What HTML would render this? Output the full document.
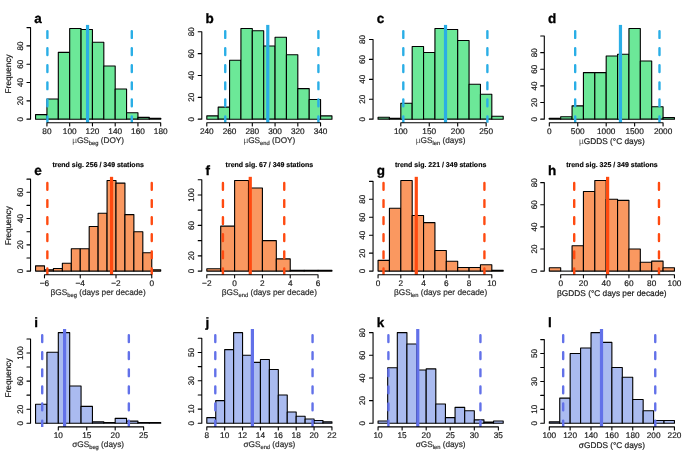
<!DOCTYPE html>
<html lang="en">
<head>
<meta charset="utf-8">
<title>Growing season histograms</title>
<style>
html, body { margin: 0; padding: 0; background: #ffffff; }
body { width: 685px; height: 457px; overflow: hidden; }
svg { display: block; }
</style>
</head>
<body>
<svg width="685" height="457" viewBox="0 0 685 457" text-rendering="geometricPrecision" font-family="'Liberation Sans', Arial, Helvetica, sans-serif">
<rect width="685" height="457" fill="#ffffff"/>
<defs><clipPath id="clip0"><rect x="0" y="24.9" width="685" height="97.9"/></clipPath><clipPath id="clip1"><rect x="0" y="176.83" width="685" height="97.9"/></clipPath><clipPath id="clip2"><rect x="0" y="329" width="685" height="97.9"/></clipPath></defs>
<g class="panel-a">
<g fill="#6ce898" stroke="#000000" stroke-width="1.1" stroke-linejoin="round">
<rect x="35.56" y="114.6" width="11.38" height="4.58"/>
<rect x="46.93" y="99.03" width="11.38" height="20.14"/>
<rect x="58.31" y="52.33" width="11.38" height="66.84"/>
<rect x="69.68" y="28.53" width="11.38" height="90.65"/>
<rect x="81.06" y="29.44" width="11.38" height="89.73"/>
<rect x="92.44" y="42.26" width="11.38" height="76.91"/>
<rect x="103.81" y="66.07" width="11.38" height="53.11"/>
<rect x="115.19" y="88.96" width="11.38" height="30.22"/>
<rect x="126.57" y="112.76" width="11.38" height="6.41"/>
<rect x="137.94" y="117.34" width="11.38" height="1.83"/>
<rect x="149.32" y="118.26" width="11.38" height="0.92"/>
</g>
<line x1="87.55" y1="122.8" x2="87.55" y2="24.9" stroke="#2aaee6" stroke-width="3.2"/>
<path d="M47.39 31.1v6.8M47.39 48.18v6.8M47.39 65.26v6.8M47.39 82.34v6.8M47.39 99.42v6.8M47.39 116.5v6.8" fill="none" stroke="#2aaee6" stroke-width="2.4" stroke-linecap="round" clip-path="url(#clip0)"/>
<path d="M131.8 31.1v6.8M131.8 48.18v6.8M131.8 65.26v6.8M131.8 82.34v6.8M131.8 99.42v6.8M131.8 116.5v6.8" fill="none" stroke="#2aaee6" stroke-width="2.4" stroke-linecap="round" clip-path="url(#clip0)"/>
<path d="M46.93 122.8H160.69M46.93 122.8v3.1M69.68 122.8v3.1M92.44 122.8v3.1M115.19 122.8v3.1M137.94 122.8v3.1M160.69 122.8v3.1M30.55 119.17V27.61M30.55 119.17h-3.6M30.55 100.86h-3.6M30.55 82.55h-3.6M30.55 64.24h-3.6M30.55 45.92h-3.6M30.55 27.61h-3.6" fill="none" stroke="#000000" stroke-width="1.1" stroke-linecap="round"/>
<g font-size="8.25" fill="#1a1a1a" stroke="#1a1a1a" stroke-width="0.2" text-anchor="middle">
<text x="46.93" y="133.6">80</text>
<text x="69.68" y="133.6">100</text>
<text x="92.44" y="133.6">120</text>
<text x="115.19" y="133.6">140</text>
<text x="137.94" y="133.6">160</text>
<text x="160.69" y="133.6">180</text>
<text transform="translate(22.75 119.17) rotate(-90)" font-size="8.1">0</text>
<text transform="translate(22.75 100.86) rotate(-90)" font-size="8.1">20</text>
<text transform="translate(22.75 82.55) rotate(-90)" font-size="8.1">40</text>
<text transform="translate(22.75 64.24) rotate(-90)" font-size="8.1">60</text>
<text transform="translate(22.75 45.92) rotate(-90)" font-size="8.1">80</text>
</g>
<text x="98.12" y="143.2" font-size="8.25" fill="#2e2e2e" stroke="#2e2e2e" stroke-width="0.2" text-anchor="middle"><tspan fill="#4a4a4a" stroke="none">µ</tspan>GS<tspan font-size="5.77" dy="1.6">beg</tspan><tspan dy="-1.6"> (DOY)</tspan></text>
<text transform="translate(11.2 73.85) rotate(-90)" font-size="8.3" fill="#1a1a1a" stroke="#1a1a1a" stroke-width="0.2" text-anchor="middle">Frequency</text>
<text x="34.3" y="23.35" font-size="13.5" font-weight="bold" fill="#000000" stroke="#000000" stroke-width="0.3">a</text>
</g>
<g class="panel-b">
<g fill="#6ce898" stroke="#000000" stroke-width="1.1" stroke-linejoin="round">
<rect x="206.81" y="115.9" width="11.38" height="3.28"/>
<rect x="218.18" y="107.16" width="11.38" height="12.01"/>
<rect x="229.56" y="60.2" width="11.38" height="58.98"/>
<rect x="240.93" y="28.53" width="11.38" height="90.65"/>
<rect x="252.31" y="30.71" width="11.38" height="88.46"/>
<rect x="263.69" y="46" width="11.38" height="73.17"/>
<rect x="275.06" y="37.26" width="11.38" height="81.91"/>
<rect x="286.44" y="54.74" width="11.38" height="64.44"/>
<rect x="297.82" y="88.59" width="11.38" height="30.58"/>
<rect x="309.19" y="99.52" width="11.38" height="19.66"/>
<rect x="320.57" y="115.9" width="11.38" height="3.28"/>
</g>
<line x1="267.78" y1="122.8" x2="267.78" y2="24.9" stroke="#2aaee6" stroke-width="3.2"/>
<path d="M225.24 31.1v6.8M225.24 48.18v6.8M225.24 65.26v6.8M225.24 82.34v6.8M225.24 99.42v6.8M225.24 116.5v6.8" fill="none" stroke="#2aaee6" stroke-width="2.4" stroke-linecap="round" clip-path="url(#clip0)"/>
<path d="M318.41 31.1v6.8M318.41 48.18v6.8M318.41 65.26v6.8M318.41 82.34v6.8M318.41 99.42v6.8M318.41 116.5v6.8" fill="none" stroke="#2aaee6" stroke-width="2.4" stroke-linecap="round" clip-path="url(#clip0)"/>
<path d="M206.81 122.8H320.57M206.81 122.8v3.1M229.56 122.8v3.1M252.31 122.8v3.1M275.06 122.8v3.1M297.82 122.8v3.1M320.57 122.8v3.1M201.8 119.17V31.8M201.8 119.17h-3.6M201.8 97.33h-3.6M201.8 75.49h-3.6M201.8 53.65h-3.6M201.8 31.8h-3.6" fill="none" stroke="#000000" stroke-width="1.1" stroke-linecap="round"/>
<g font-size="8.25" fill="#1a1a1a" stroke="#1a1a1a" stroke-width="0.2" text-anchor="middle">
<text x="206.81" y="133.6">240</text>
<text x="229.56" y="133.6">260</text>
<text x="252.31" y="133.6">280</text>
<text x="275.06" y="133.6">300</text>
<text x="297.82" y="133.6">320</text>
<text x="320.57" y="133.6">340</text>
<text transform="translate(194 119.17) rotate(-90)" font-size="8.1">0</text>
<text transform="translate(194 97.33) rotate(-90)" font-size="8.1">20</text>
<text transform="translate(194 75.49) rotate(-90)" font-size="8.1">40</text>
<text transform="translate(194 53.65) rotate(-90)" font-size="8.1">60</text>
<text transform="translate(194 31.8) rotate(-90)" font-size="8.1">80</text>
</g>
<text x="269.38" y="143.2" font-size="8.25" fill="#2e2e2e" stroke="#2e2e2e" stroke-width="0.2" text-anchor="middle"><tspan fill="#4a4a4a" stroke="none">µ</tspan>GS<tspan font-size="5.77" dy="1.6">end</tspan><tspan dy="-1.6"> (DOY)</tspan></text>
<text x="205.55" y="23.35" font-size="13.5" font-weight="bold" fill="#000000" stroke="#000000" stroke-width="0.3">b</text>
</g>
<g class="panel-c">
<g fill="#6ce898" stroke="#000000" stroke-width="1.1" stroke-linejoin="round">
<rect x="378.06" y="117.18" width="11.38" height="1.99"/>
<rect x="389.43" y="118.18" width="11.38" height="1"/>
<rect x="400.81" y="103.24" width="11.38" height="15.94"/>
<rect x="412.18" y="46.46" width="11.38" height="72.72"/>
<rect x="423.56" y="52.43" width="11.38" height="66.74"/>
<rect x="434.94" y="28.53" width="11.38" height="90.65"/>
<rect x="446.31" y="29.52" width="11.38" height="89.65"/>
<rect x="457.69" y="40.48" width="11.38" height="78.69"/>
<rect x="469.07" y="84.31" width="11.38" height="34.86"/>
<rect x="480.44" y="94.27" width="11.38" height="24.9"/>
<rect x="491.82" y="116.19" width="11.38" height="2.99"/>
</g>
<line x1="445.52" y1="122.8" x2="445.52" y2="24.9" stroke="#2aaee6" stroke-width="3.2"/>
<path d="M403.31 31.1v6.8M403.31 48.18v6.8M403.31 65.26v6.8M403.31 82.34v6.8M403.31 99.42v6.8M403.31 116.5v6.8" fill="none" stroke="#2aaee6" stroke-width="2.4" stroke-linecap="round" clip-path="url(#clip0)"/>
<path d="M487.38 31.1v6.8M487.38 48.18v6.8M487.38 65.26v6.8M487.38 82.34v6.8M487.38 99.42v6.8M487.38 116.5v6.8" fill="none" stroke="#2aaee6" stroke-width="2.4" stroke-linecap="round" clip-path="url(#clip0)"/>
<path d="M400.81 122.8H486.13M400.81 122.8v3.1M429.25 122.8v3.1M457.69 122.8v3.1M486.13 122.8v3.1M373.05 119.17V39.48M373.05 119.17h-3.6M373.05 99.25h-3.6M373.05 79.33h-3.6M373.05 59.41h-3.6M373.05 39.48h-3.6" fill="none" stroke="#000000" stroke-width="1.1" stroke-linecap="round"/>
<g font-size="8.25" fill="#1a1a1a" stroke="#1a1a1a" stroke-width="0.2" text-anchor="middle">
<text x="400.81" y="133.6">100</text>
<text x="429.25" y="133.6">150</text>
<text x="457.69" y="133.6">200</text>
<text x="486.13" y="133.6">250</text>
<text transform="translate(365.25 119.17) rotate(-90)" font-size="8.1">0</text>
<text transform="translate(365.25 99.25) rotate(-90)" font-size="8.1">20</text>
<text transform="translate(365.25 79.33) rotate(-90)" font-size="8.1">40</text>
<text transform="translate(365.25 59.41) rotate(-90)" font-size="8.1">60</text>
<text transform="translate(365.25 39.48) rotate(-90)" font-size="8.1">80</text>
</g>
<text x="440.62" y="143.2" font-size="8.25" fill="#2e2e2e" stroke="#2e2e2e" stroke-width="0.2" text-anchor="middle"><tspan fill="#4a4a4a" stroke="none">µ</tspan>GS<tspan font-size="5.77" dy="1.6">len</tspan><tspan dy="-1.6"> (days)</tspan></text>
<text x="376.8" y="23.35" font-size="13.5" font-weight="bold" fill="#000000" stroke="#000000" stroke-width="0.3">c</text>
</g>
<g class="panel-d">
<g fill="#6ce898" stroke="#000000" stroke-width="1.1" stroke-linejoin="round">
<rect x="549.31" y="118.34" width="11.38" height="0.83"/>
<rect x="560.68" y="116.68" width="11.38" height="2.49"/>
<rect x="572.06" y="105.87" width="11.38" height="13.31"/>
<rect x="583.43" y="72.6" width="11.38" height="46.57"/>
<rect x="594.81" y="72.6" width="11.38" height="46.57"/>
<rect x="606.19" y="55.97" width="11.38" height="63.2"/>
<rect x="617.56" y="54.31" width="11.38" height="64.87"/>
<rect x="628.94" y="28.53" width="11.38" height="90.65"/>
<rect x="640.32" y="60.96" width="11.38" height="58.21"/>
<rect x="651.69" y="106.7" width="11.38" height="12.47"/>
<rect x="663.07" y="117.51" width="11.38" height="1.66"/>
</g>
<line x1="620.46" y1="122.8" x2="620.46" y2="24.9" stroke="#2aaee6" stroke-width="3.2"/>
<path d="M575.19 31.1v6.8M575.19 48.18v6.8M575.19 65.26v6.8M575.19 82.34v6.8M575.19 99.42v6.8M575.19 116.5v6.8" fill="none" stroke="#2aaee6" stroke-width="2.4" stroke-linecap="round" clip-path="url(#clip0)"/>
<path d="M659.48 31.1v6.8M659.48 48.18v6.8M659.48 65.26v6.8M659.48 82.34v6.8M659.48 99.42v6.8M659.48 116.5v6.8" fill="none" stroke="#2aaee6" stroke-width="2.4" stroke-linecap="round" clip-path="url(#clip0)"/>
<path d="M549.31 122.8H663.07M549.31 122.8v3.1M577.75 122.8v3.1M606.19 122.8v3.1M634.63 122.8v3.1M663.07 122.8v3.1M544.3 119.17V36.01M544.3 119.17h-3.6M544.3 102.54h-3.6M544.3 85.91h-3.6M544.3 69.28h-3.6M544.3 52.64h-3.6M544.3 36.01h-3.6" fill="none" stroke="#000000" stroke-width="1.1" stroke-linecap="round"/>
<g font-size="8.25" fill="#1a1a1a" stroke="#1a1a1a" stroke-width="0.2" text-anchor="middle">
<text x="549.31" y="133.6">0</text>
<text x="577.75" y="133.6">500</text>
<text x="606.19" y="133.6">1000</text>
<text x="634.63" y="133.6">1500</text>
<text x="663.07" y="133.6">2000</text>
<text transform="translate(536.5 119.17) rotate(-90)" font-size="8.1">0</text>
<text transform="translate(536.5 102.54) rotate(-90)" font-size="8.1">20</text>
<text transform="translate(536.5 85.91) rotate(-90)" font-size="8.1">40</text>
<text transform="translate(536.5 69.28) rotate(-90)" font-size="8.1">60</text>
<text transform="translate(536.5 52.64) rotate(-90)" font-size="8.1">80</text>
</g>
<text x="611.88" y="143.9" font-size="8.3" fill="#1a1a1a" stroke="#1a1a1a" stroke-width="0.2" text-anchor="middle"><tspan fill="#4a4a4a" stroke="none">µ</tspan>GDDS (°C days)</text>
<text x="548.05" y="23.35" font-size="13.5" font-weight="bold" fill="#000000" stroke="#000000" stroke-width="0.3">d</text>
</g>
<g class="panel-e">
<g fill="#fa9860" stroke="#000000" stroke-width="1.1" stroke-linejoin="round">
<rect x="35.56" y="265.85" width="8.94" height="5.25"/>
<rect x="44.49" y="269.79" width="8.94" height="1.31"/>
<rect x="53.43" y="268.48" width="8.94" height="2.63"/>
<rect x="62.37" y="263.22" width="8.94" height="7.88"/>
<rect x="71.31" y="248.77" width="8.94" height="22.33"/>
<rect x="80.25" y="248.77" width="8.94" height="22.33"/>
<rect x="89.19" y="226.44" width="8.94" height="44.67"/>
<rect x="98.12" y="213.3" width="8.94" height="57.8"/>
<rect x="107.06" y="180.46" width="8.94" height="90.65"/>
<rect x="116" y="183.08" width="8.94" height="88.02"/>
<rect x="124.94" y="214.61" width="8.94" height="56.49"/>
<rect x="133.88" y="231.69" width="8.94" height="39.41"/>
<rect x="142.82" y="252.71" width="8.94" height="18.39"/>
<rect x="151.76" y="269.79" width="8.94" height="1.31"/>
</g>
<line x1="111.53" y1="274.73" x2="111.53" y2="176.83" stroke="#ff4a10" stroke-width="3.2"/>
<path d="M47.35 183.03v6.8M47.35 200.11v6.8M47.35 217.19v6.8M47.35 234.27v6.8M47.35 251.35v6.8M47.35 268.43v6.8" fill="none" stroke="#ff4a10" stroke-width="2.4" stroke-linecap="round" clip-path="url(#clip1)"/>
<path d="M151.76 183.03v6.8M151.76 200.11v6.8M151.76 217.19v6.8M151.76 234.27v6.8M151.76 251.35v6.8M151.76 268.43v6.8" fill="none" stroke="#ff4a10" stroke-width="2.4" stroke-linecap="round" clip-path="url(#clip1)"/>
<path d="M44.49 274.73H151.76M44.49 274.73v3.1M80.25 274.73v3.1M116 274.73v3.1M151.76 274.73v3.1M30.55 271.1V179.14M30.55 271.1h-3.6M30.55 257.97h-3.6M30.55 244.83h-3.6M30.55 231.69h-3.6M30.55 218.55h-3.6M30.55 205.42h-3.6M30.55 192.28h-3.6M30.55 179.14h-3.6" fill="none" stroke="#000000" stroke-width="1.1" stroke-linecap="round"/>
<g font-size="8.25" fill="#1a1a1a" stroke="#1a1a1a" stroke-width="0.2" text-anchor="middle">
<text x="44.49" y="285.53">−6</text>
<text x="80.25" y="285.53">−4</text>
<text x="116" y="285.53">−2</text>
<text x="151.76" y="285.53">0</text>
<text transform="translate(22.75 271.1) rotate(-90)" font-size="8.1">0</text>
<text transform="translate(22.75 244.83) rotate(-90)" font-size="8.1">20</text>
<text transform="translate(22.75 218.55) rotate(-90)" font-size="8.1">40</text>
<text transform="translate(22.75 192.28) rotate(-90)" font-size="8.1">60</text>
</g>
<text x="98.12" y="295.13" font-size="8.25" fill="#2e2e2e" stroke="#2e2e2e" stroke-width="0.2" text-anchor="middle">βGS<tspan font-size="5.77" dy="1.6">beg</tspan><tspan dy="-1.6"> (days per decade)</tspan></text>
<text transform="translate(11.2 225.78) rotate(-90)" font-size="8.3" fill="#1a1a1a" stroke="#1a1a1a" stroke-width="0.2" text-anchor="middle">Frequency</text>
<text x="34.3" y="175.28" font-size="13.5" font-weight="bold" fill="#000000" stroke="#000000" stroke-width="0.3">e</text>
<text x="98.12" y="167.43" font-size="7" font-weight="bold" fill="#000000" stroke="#000000" stroke-width="0.15" text-anchor="middle">trend sig. 256 / 349 stations</text>
</g>
<g class="panel-f">
<g fill="#fa9860" stroke="#000000" stroke-width="1.1" stroke-linejoin="round">
<rect x="206.81" y="268.82" width="13.9" height="2.29"/>
<rect x="220.71" y="226.16" width="13.9" height="44.94"/>
<rect x="234.61" y="180.46" width="13.9" height="90.65"/>
<rect x="248.52" y="188.07" width="13.9" height="83.03"/>
<rect x="262.42" y="240.63" width="13.9" height="30.47"/>
<rect x="276.33" y="258.92" width="13.9" height="12.19"/>
<rect x="290.23" y="270.34" width="13.9" height="0.76"/>
<rect x="304.14" y="270.34" width="13.9" height="0.76"/>
<rect x="318.04" y="270.34" width="13.9" height="0.76"/>
</g>
<line x1="250.26" y1="274.73" x2="250.26" y2="176.83" stroke="#ff4a10" stroke-width="3.2"/>
<path d="M222.93 183.03v6.8M222.93 200.11v6.8M222.93 217.19v6.8M222.93 234.27v6.8M222.93 251.35v6.8M222.93 268.43v6.8" fill="none" stroke="#ff4a10" stroke-width="2.4" stroke-linecap="round" clip-path="url(#clip1)"/>
<path d="M284.25 183.03v6.8M284.25 200.11v6.8M284.25 217.19v6.8M284.25 234.27v6.8M284.25 251.35v6.8M284.25 268.43v6.8" fill="none" stroke="#ff4a10" stroke-width="2.4" stroke-linecap="round" clip-path="url(#clip1)"/>
<path d="M206.81 274.73H318.04M206.81 274.73v3.1M234.61 274.73v3.1M262.42 274.73v3.1M290.23 274.73v3.1M318.04 274.73v3.1M201.8 271.1V179.69M201.8 271.1h-3.6M201.8 255.87h-3.6M201.8 240.63h-3.6M201.8 225.4h-3.6M201.8 210.16h-3.6M201.8 194.93h-3.6M201.8 179.69h-3.6" fill="none" stroke="#000000" stroke-width="1.1" stroke-linecap="round"/>
<g font-size="8.25" fill="#1a1a1a" stroke="#1a1a1a" stroke-width="0.2" text-anchor="middle">
<text x="206.81" y="285.53">−2</text>
<text x="234.61" y="285.53">0</text>
<text x="262.42" y="285.53">2</text>
<text x="290.23" y="285.53">4</text>
<text x="318.04" y="285.53">6</text>
<text transform="translate(194 271.1) rotate(-90)" font-size="8.1">0</text>
<text transform="translate(194 255.87) rotate(-90)" font-size="8.1">20</text>
<text transform="translate(194 225.4) rotate(-90)" font-size="8.1">60</text>
<text transform="translate(194 194.93) rotate(-90)" font-size="8.1">100</text>
</g>
<text x="269.38" y="295.13" font-size="8.25" fill="#2e2e2e" stroke="#2e2e2e" stroke-width="0.2" text-anchor="middle">βGS<tspan font-size="5.77" dy="1.6">end</tspan><tspan dy="-1.6"> (days per decade)</tspan></text>
<text x="205.55" y="175.28" font-size="13.5" font-weight="bold" fill="#000000" stroke="#000000" stroke-width="0.3">f</text>
<text x="269.38" y="167.43" font-size="7" font-weight="bold" fill="#000000" stroke="#000000" stroke-width="0.15" text-anchor="middle">trend sig. 67 / 349 stations</text>
</g>
<g class="panel-g">
<g fill="#fa9860" stroke="#000000" stroke-width="1.1" stroke-linejoin="round">
<rect x="378.06" y="260.33" width="11.38" height="10.77"/>
<rect x="389.43" y="208.28" width="11.38" height="62.83"/>
<rect x="400.81" y="180.46" width="11.38" height="90.65"/>
<rect x="412.18" y="215.46" width="11.38" height="55.65"/>
<rect x="423.56" y="222.64" width="11.38" height="48.47"/>
<rect x="434.94" y="250.46" width="11.38" height="20.64"/>
<rect x="446.31" y="261.23" width="11.38" height="9.87"/>
<rect x="457.69" y="267.51" width="11.38" height="3.59"/>
<rect x="469.07" y="267.51" width="11.38" height="3.59"/>
<rect x="480.44" y="264.82" width="11.38" height="6.28"/>
<rect x="491.82" y="270.21" width="11.38" height="0.9"/>
</g>
<line x1="416.28" y1="274.73" x2="416.28" y2="176.83" stroke="#ff4a10" stroke-width="3.2"/>
<path d="M383.52 183.03v6.8M383.52 200.11v6.8M383.52 217.19v6.8M383.52 234.27v6.8M383.52 251.35v6.8M383.52 268.43v6.8" fill="none" stroke="#ff4a10" stroke-width="2.4" stroke-linecap="round" clip-path="url(#clip1)"/>
<path d="M484.42 183.03v6.8M484.42 200.11v6.8M484.42 217.19v6.8M484.42 234.27v6.8M484.42 251.35v6.8M484.42 268.43v6.8" fill="none" stroke="#ff4a10" stroke-width="2.4" stroke-linecap="round" clip-path="url(#clip1)"/>
<path d="M378.06 274.73H491.82M378.06 274.73v3.1M400.81 274.73v3.1M423.56 274.73v3.1M446.31 274.73v3.1M469.07 274.73v3.1M491.82 274.73v3.1M373.05 271.1V181.35M373.05 271.1h-3.6M373.05 253.15h-3.6M373.05 235.2h-3.6M373.05 217.25h-3.6M373.05 199.3h-3.6M373.05 181.35h-3.6" fill="none" stroke="#000000" stroke-width="1.1" stroke-linecap="round"/>
<g font-size="8.25" fill="#1a1a1a" stroke="#1a1a1a" stroke-width="0.2" text-anchor="middle">
<text x="378.06" y="285.53">0</text>
<text x="400.81" y="285.53">2</text>
<text x="423.56" y="285.53">4</text>
<text x="446.31" y="285.53">6</text>
<text x="469.07" y="285.53">8</text>
<text x="491.82" y="285.53">10</text>
<text transform="translate(365.25 271.1) rotate(-90)" font-size="8.1">0</text>
<text transform="translate(365.25 253.15) rotate(-90)" font-size="8.1">20</text>
<text transform="translate(365.25 235.2) rotate(-90)" font-size="8.1">40</text>
<text transform="translate(365.25 217.25) rotate(-90)" font-size="8.1">60</text>
<text transform="translate(365.25 199.3) rotate(-90)" font-size="8.1">80</text>
</g>
<text x="440.62" y="295.13" font-size="8.25" fill="#2e2e2e" stroke="#2e2e2e" stroke-width="0.2" text-anchor="middle">βGS<tspan font-size="5.77" dy="1.6">len</tspan><tspan dy="-1.6"> (days per decade)</tspan></text>
<text x="376.8" y="175.28" font-size="13.5" font-weight="bold" fill="#000000" stroke="#000000" stroke-width="0.3">g</text>
<text x="440.62" y="167.43" font-size="7" font-weight="bold" fill="#000000" stroke="#000000" stroke-width="0.15" text-anchor="middle">trend sig. 221 / 349 stations</text>
</g>
<g class="panel-h">
<g fill="#fa9860" stroke="#000000" stroke-width="1.1" stroke-linejoin="round">
<rect x="549.31" y="267.79" width="11.38" height="3.32"/>
<path d="M560.68 271.1H572.06"/>
<rect x="572.06" y="245.68" width="11.38" height="25.43"/>
<rect x="583.43" y="191.51" width="11.38" height="79.59"/>
<rect x="594.81" y="180.46" width="11.38" height="90.65"/>
<rect x="606.19" y="199.25" width="11.38" height="71.86"/>
<rect x="617.56" y="200.35" width="11.38" height="70.75"/>
<rect x="628.94" y="248.99" width="11.38" height="22.11"/>
<rect x="640.32" y="262.26" width="11.38" height="8.84"/>
<rect x="651.69" y="261.15" width="11.38" height="9.95"/>
<rect x="663.07" y="267.79" width="11.38" height="3.32"/>
</g>
<line x1="607.61" y1="274.73" x2="607.61" y2="176.83" stroke="#ff4a10" stroke-width="3.2"/>
<path d="M574.22 183.03v6.8M574.22 200.11v6.8M574.22 217.19v6.8M574.22 234.27v6.8M574.22 251.35v6.8M574.22 268.43v6.8" fill="none" stroke="#ff4a10" stroke-width="2.4" stroke-linecap="round" clip-path="url(#clip1)"/>
<path d="M658.97 183.03v6.8M658.97 200.11v6.8M658.97 217.19v6.8M658.97 234.27v6.8M658.97 251.35v6.8M658.97 268.43v6.8" fill="none" stroke="#ff4a10" stroke-width="2.4" stroke-linecap="round" clip-path="url(#clip1)"/>
<path d="M560.68 274.73H674.44M560.68 274.73v3.1M583.43 274.73v3.1M606.19 274.73v3.1M628.94 274.73v3.1M651.69 274.73v3.1M674.44 274.73v3.1M544.3 271.1V182.67M544.3 271.1h-3.6M544.3 248.99h-3.6M544.3 226.89h-3.6M544.3 204.78h-3.6M544.3 182.67h-3.6" fill="none" stroke="#000000" stroke-width="1.1" stroke-linecap="round"/>
<g font-size="8.25" fill="#1a1a1a" stroke="#1a1a1a" stroke-width="0.2" text-anchor="middle">
<text x="560.68" y="285.53">0</text>
<text x="583.43" y="285.53">20</text>
<text x="606.19" y="285.53">40</text>
<text x="628.94" y="285.53">60</text>
<text x="651.69" y="285.53">80</text>
<text x="674.44" y="285.53">100</text>
<text transform="translate(536.5 271.1) rotate(-90)" font-size="8.1">0</text>
<text transform="translate(536.5 248.99) rotate(-90)" font-size="8.1">20</text>
<text transform="translate(536.5 226.89) rotate(-90)" font-size="8.1">40</text>
<text transform="translate(536.5 204.78) rotate(-90)" font-size="8.1">60</text>
<text transform="translate(536.5 182.67) rotate(-90)" font-size="8.1">80</text>
</g>
<text x="611.88" y="295.83" font-size="8.3" fill="#1a1a1a" stroke="#1a1a1a" stroke-width="0.2" text-anchor="middle">βGDDS (°C days per decade)</text>
<text x="548.05" y="175.28" font-size="13.5" font-weight="bold" fill="#000000" stroke="#000000" stroke-width="0.3">h</text>
<text x="611.88" y="167.43" font-size="7" font-weight="bold" fill="#000000" stroke="#000000" stroke-width="0.15" text-anchor="middle">trend sig. 325 / 349 stations</text>
</g>
<g class="panel-i">
<g fill="#aabbf0" stroke="#000000" stroke-width="1.1" stroke-linejoin="round">
<rect x="35.56" y="404.3" width="11.38" height="18.97"/>
<rect x="46.93" y="352.3" width="11.38" height="70.97"/>
<rect x="58.31" y="332.63" width="11.38" height="90.65"/>
<rect x="69.68" y="386.03" width="11.38" height="37.24"/>
<rect x="81.06" y="406.41" width="11.38" height="16.86"/>
<rect x="92.44" y="421.87" width="11.38" height="1.41"/>
<rect x="103.81" y="422.57" width="11.38" height="0.7"/>
<rect x="115.19" y="418.36" width="11.38" height="4.92"/>
<rect x="126.57" y="421.17" width="11.38" height="2.11"/>
<rect x="137.94" y="422.57" width="11.38" height="0.7"/>
<rect x="149.32" y="422.57" width="11.38" height="0.7"/>
</g>
<line x1="64.57" y1="426.9" x2="64.57" y2="329" stroke="#6271e9" stroke-width="3.2"/>
<path d="M42.21 335.2v6.8M42.21 352.28v6.8M42.21 369.36v6.8M42.21 386.44v6.8M42.21 403.52v6.8M42.21 420.6v6.8" fill="none" stroke="#6271e9" stroke-width="2.4" stroke-linecap="round" clip-path="url(#clip2)"/>
<path d="M128.84 335.2v6.8M128.84 352.28v6.8M128.84 369.36v6.8M128.84 386.44v6.8M128.84 403.52v6.8M128.84 420.6v6.8" fill="none" stroke="#6271e9" stroke-width="2.4" stroke-linecap="round" clip-path="url(#clip2)"/>
<path d="M58.31 426.9H143.63M58.31 426.9v3.1M86.75 426.9v3.1M115.19 426.9v3.1M143.63 426.9v3.1M30.55 423.27V338.95M30.55 423.27h-3.6M30.55 409.22h-3.6M30.55 395.17h-3.6M30.55 381.11h-3.6M30.55 367.06h-3.6M30.55 353h-3.6M30.55 338.95h-3.6" fill="none" stroke="#000000" stroke-width="1.1" stroke-linecap="round"/>
<g font-size="8.25" fill="#1a1a1a" stroke="#1a1a1a" stroke-width="0.2" text-anchor="middle">
<text x="58.31" y="437.7">10</text>
<text x="86.75" y="437.7">15</text>
<text x="115.19" y="437.7">20</text>
<text x="143.63" y="437.7">25</text>
<text transform="translate(22.75 423.27) rotate(-90)" font-size="8.1">0</text>
<text transform="translate(22.75 409.22) rotate(-90)" font-size="8.1">20</text>
<text transform="translate(22.75 381.11) rotate(-90)" font-size="8.1">60</text>
<text transform="translate(22.75 353) rotate(-90)" font-size="8.1">100</text>
</g>
<text x="98.12" y="447.3" font-size="8.25" fill="#2e2e2e" stroke="#2e2e2e" stroke-width="0.2" text-anchor="middle">σGS<tspan font-size="5.77" dy="1.6">beg</tspan><tspan dy="-1.6"> (days)</tspan></text>
<text transform="translate(11.2 377.95) rotate(-90)" font-size="8.3" fill="#1a1a1a" stroke="#1a1a1a" stroke-width="0.2" text-anchor="middle">Frequency</text>
<text x="34.3" y="327.45" font-size="13.5" font-weight="bold" fill="#000000" stroke="#000000" stroke-width="0.3">i</text>
</g>
<g class="panel-j">
<g fill="#aabbf0" stroke="#000000" stroke-width="1.1" stroke-linejoin="round">
<rect x="206.81" y="417.61" width="8.94" height="5.67"/>
<rect x="215.74" y="400.61" width="8.94" height="22.66"/>
<rect x="224.68" y="349.62" width="8.94" height="73.65"/>
<rect x="233.62" y="332.63" width="8.94" height="90.65"/>
<rect x="242.56" y="355.29" width="8.94" height="67.99"/>
<rect x="251.5" y="362.37" width="8.94" height="60.9"/>
<rect x="260.44" y="359.54" width="8.94" height="63.74"/>
<rect x="269.38" y="369.45" width="8.94" height="53.82"/>
<rect x="278.31" y="394.95" width="8.94" height="28.33"/>
<rect x="287.25" y="411.94" width="8.94" height="11.33"/>
<rect x="296.19" y="416.19" width="8.94" height="7.08"/>
<rect x="305.13" y="419.02" width="8.94" height="4.25"/>
<rect x="314.07" y="420.44" width="8.94" height="2.83"/>
<rect x="323.01" y="421.86" width="8.94" height="1.42"/>
</g>
<line x1="252.39" y1="426.9" x2="252.39" y2="329" stroke="#6271e9" stroke-width="3.2"/>
<path d="M215.3 335.2v6.8M215.3 352.28v6.8M215.3 369.36v6.8M215.3 386.44v6.8M215.3 403.52v6.8M215.3 420.6v6.8" fill="none" stroke="#6271e9" stroke-width="2.4" stroke-linecap="round" clip-path="url(#clip2)"/>
<path d="M312.55 335.2v6.8M312.55 352.28v6.8M312.55 369.36v6.8M312.55 386.44v6.8M312.55 403.52v6.8M312.55 420.6v6.8" fill="none" stroke="#6271e9" stroke-width="2.4" stroke-linecap="round" clip-path="url(#clip2)"/>
<path d="M206.81 426.9H331.94M206.81 426.9v3.1M224.68 426.9v3.1M242.56 426.9v3.1M260.44 426.9v3.1M278.31 426.9v3.1M296.19 426.9v3.1M314.07 426.9v3.1M331.94 426.9v3.1M201.8 423.27V338.29M201.8 423.27h-3.6M201.8 409.11h-3.6M201.8 394.95h-3.6M201.8 380.78h-3.6M201.8 366.62h-3.6M201.8 352.46h-3.6M201.8 338.29h-3.6" fill="none" stroke="#000000" stroke-width="1.1" stroke-linecap="round"/>
<g font-size="8.25" fill="#1a1a1a" stroke="#1a1a1a" stroke-width="0.2" text-anchor="middle">
<text x="206.81" y="437.7">8</text>
<text x="224.68" y="437.7">10</text>
<text x="242.56" y="437.7">12</text>
<text x="260.44" y="437.7">14</text>
<text x="278.31" y="437.7">16</text>
<text x="296.19" y="437.7">18</text>
<text x="314.07" y="437.7">20</text>
<text x="331.94" y="437.7">22</text>
<text transform="translate(194 423.27) rotate(-90)" font-size="8.1">0</text>
<text transform="translate(194 409.11) rotate(-90)" font-size="8.1">10</text>
<text transform="translate(194 380.78) rotate(-90)" font-size="8.1">30</text>
<text transform="translate(194 352.46) rotate(-90)" font-size="8.1">50</text>
</g>
<text x="269.38" y="447.3" font-size="8.25" fill="#2e2e2e" stroke="#2e2e2e" stroke-width="0.2" text-anchor="middle">σGS<tspan font-size="5.77" dy="1.6">end</tspan><tspan dy="-1.6"> (days)</tspan></text>
<text x="205.55" y="327.45" font-size="13.5" font-weight="bold" fill="#000000" stroke="#000000" stroke-width="0.3">j</text>
</g>
<g class="panel-k">
<g fill="#aabbf0" stroke="#000000" stroke-width="1.1" stroke-linejoin="round">
<rect x="378.06" y="421.01" width="9.63" height="2.27"/>
<rect x="387.68" y="367.75" width="9.63" height="55.52"/>
<rect x="397.31" y="332.63" width="9.63" height="90.65"/>
<rect x="406.93" y="343.96" width="9.63" height="79.32"/>
<rect x="416.56" y="370.02" width="9.63" height="53.26"/>
<rect x="426.19" y="368.89" width="9.63" height="54.39"/>
<rect x="435.81" y="404.01" width="9.63" height="19.26"/>
<rect x="445.44" y="417.61" width="9.63" height="5.67"/>
<rect x="455.06" y="407.41" width="9.63" height="15.86"/>
<rect x="464.69" y="410.81" width="9.63" height="12.46"/>
<rect x="474.32" y="419.87" width="9.63" height="3.4"/>
<rect x="483.94" y="422.14" width="9.63" height="1.13"/>
<rect x="493.57" y="421.01" width="9.63" height="2.27"/>
</g>
<line x1="417.76" y1="426.9" x2="417.76" y2="329" stroke="#6271e9" stroke-width="3.2"/>
<path d="M388.4 335.2v6.8M388.4 352.28v6.8M388.4 369.36v6.8M388.4 386.44v6.8M388.4 403.52v6.8M388.4 420.6v6.8" fill="none" stroke="#6271e9" stroke-width="2.4" stroke-linecap="round" clip-path="url(#clip2)"/>
<path d="M480.43 335.2v6.8M480.43 352.28v6.8M480.43 369.36v6.8M480.43 386.44v6.8M480.43 403.52v6.8M480.43 420.6v6.8" fill="none" stroke="#6271e9" stroke-width="2.4" stroke-linecap="round" clip-path="url(#clip2)"/>
<path d="M378.06 426.9H498.38M378.06 426.9v3.1M402.12 426.9v3.1M426.19 426.9v3.1M450.25 426.9v3.1M474.32 426.9v3.1M498.38 426.9v3.1M373.05 423.27V332.63M373.05 423.27h-3.6M373.05 400.61h-3.6M373.05 377.95h-3.6M373.05 355.29h-3.6M373.05 332.63h-3.6" fill="none" stroke="#000000" stroke-width="1.1" stroke-linecap="round"/>
<g font-size="8.25" fill="#1a1a1a" stroke="#1a1a1a" stroke-width="0.2" text-anchor="middle">
<text x="378.06" y="437.7">10</text>
<text x="402.12" y="437.7">15</text>
<text x="426.19" y="437.7">20</text>
<text x="450.25" y="437.7">25</text>
<text x="474.32" y="437.7">30</text>
<text x="498.38" y="437.7">35</text>
<text transform="translate(365.25 423.27) rotate(-90)" font-size="8.1">0</text>
<text transform="translate(365.25 400.61) rotate(-90)" font-size="8.1">20</text>
<text transform="translate(365.25 377.95) rotate(-90)" font-size="8.1">40</text>
<text transform="translate(365.25 355.29) rotate(-90)" font-size="8.1">60</text>
<text transform="translate(365.25 332.63) rotate(-90)" font-size="8.1">80</text>
</g>
<text x="440.62" y="447.3" font-size="8.25" fill="#2e2e2e" stroke="#2e2e2e" stroke-width="0.2" text-anchor="middle">σGS<tspan font-size="5.77" dy="1.6">len</tspan><tspan dy="-1.6"> (days)</tspan></text>
<text x="376.8" y="327.45" font-size="13.5" font-weight="bold" fill="#000000" stroke="#000000" stroke-width="0.3">k</text>
</g>
<g class="panel-l">
<g fill="#aabbf0" stroke="#000000" stroke-width="1.1" stroke-linejoin="round">
<rect x="549.31" y="421.88" width="10.43" height="1.39"/>
<rect x="559.73" y="398.17" width="10.43" height="25.1"/>
<rect x="570.16" y="353.54" width="10.43" height="69.73"/>
<rect x="580.59" y="347.97" width="10.43" height="75.31"/>
<rect x="591.02" y="332.63" width="10.43" height="90.65"/>
<rect x="601.45" y="342.39" width="10.43" height="80.89"/>
<rect x="611.87" y="367.49" width="10.43" height="55.78"/>
<rect x="622.3" y="377.25" width="10.43" height="46.02"/>
<rect x="632.73" y="399.57" width="10.43" height="23.71"/>
<rect x="643.16" y="410.72" width="10.43" height="12.55"/>
<rect x="653.59" y="420.48" width="10.43" height="2.79"/>
<rect x="664.02" y="420.48" width="10.43" height="2.79"/>
</g>
<line x1="601.5" y1="426.9" x2="601.5" y2="329" stroke="#6271e9" stroke-width="3.2"/>
<path d="M563.18 335.2v6.8M563.18 352.28v6.8M563.18 369.36v6.8M563.18 386.44v6.8M563.18 403.52v6.8M563.18 420.6v6.8" fill="none" stroke="#6271e9" stroke-width="2.4" stroke-linecap="round" clip-path="url(#clip2)"/>
<path d="M655.26 335.2v6.8M655.26 352.28v6.8M655.26 369.36v6.8M655.26 386.44v6.8M655.26 403.52v6.8M655.26 420.6v6.8" fill="none" stroke="#6271e9" stroke-width="2.4" stroke-linecap="round" clip-path="url(#clip2)"/>
<path d="M549.31 426.9H674.44M549.31 426.9v3.1M570.16 426.9v3.1M591.02 426.9v3.1M611.87 426.9v3.1M632.73 426.9v3.1M653.59 426.9v3.1M674.44 426.9v3.1M544.3 423.27V339.6M544.3 423.27h-3.6M544.3 409.33h-3.6M544.3 395.38h-3.6M544.3 381.44h-3.6M544.3 367.49h-3.6M544.3 353.54h-3.6M544.3 339.6h-3.6" fill="none" stroke="#000000" stroke-width="1.1" stroke-linecap="round"/>
<g font-size="8.25" fill="#1a1a1a" stroke="#1a1a1a" stroke-width="0.2" text-anchor="middle">
<text x="549.31" y="437.7">100</text>
<text x="570.16" y="437.7">120</text>
<text x="591.02" y="437.7">140</text>
<text x="611.87" y="437.7">160</text>
<text x="632.73" y="437.7">180</text>
<text x="653.59" y="437.7">200</text>
<text x="674.44" y="437.7">220</text>
<text transform="translate(536.5 423.27) rotate(-90)" font-size="8.1">0</text>
<text transform="translate(536.5 409.33) rotate(-90)" font-size="8.1">10</text>
<text transform="translate(536.5 381.44) rotate(-90)" font-size="8.1">30</text>
<text transform="translate(536.5 353.54) rotate(-90)" font-size="8.1">50</text>
</g>
<text x="611.88" y="448" font-size="8.3" fill="#1a1a1a" stroke="#1a1a1a" stroke-width="0.2" text-anchor="middle">σGDDS (°C days)</text>
<text x="548.05" y="327.45" font-size="13.5" font-weight="bold" fill="#000000" stroke="#000000" stroke-width="0.3">l</text>
</g>
</svg>
</body>
</html>
